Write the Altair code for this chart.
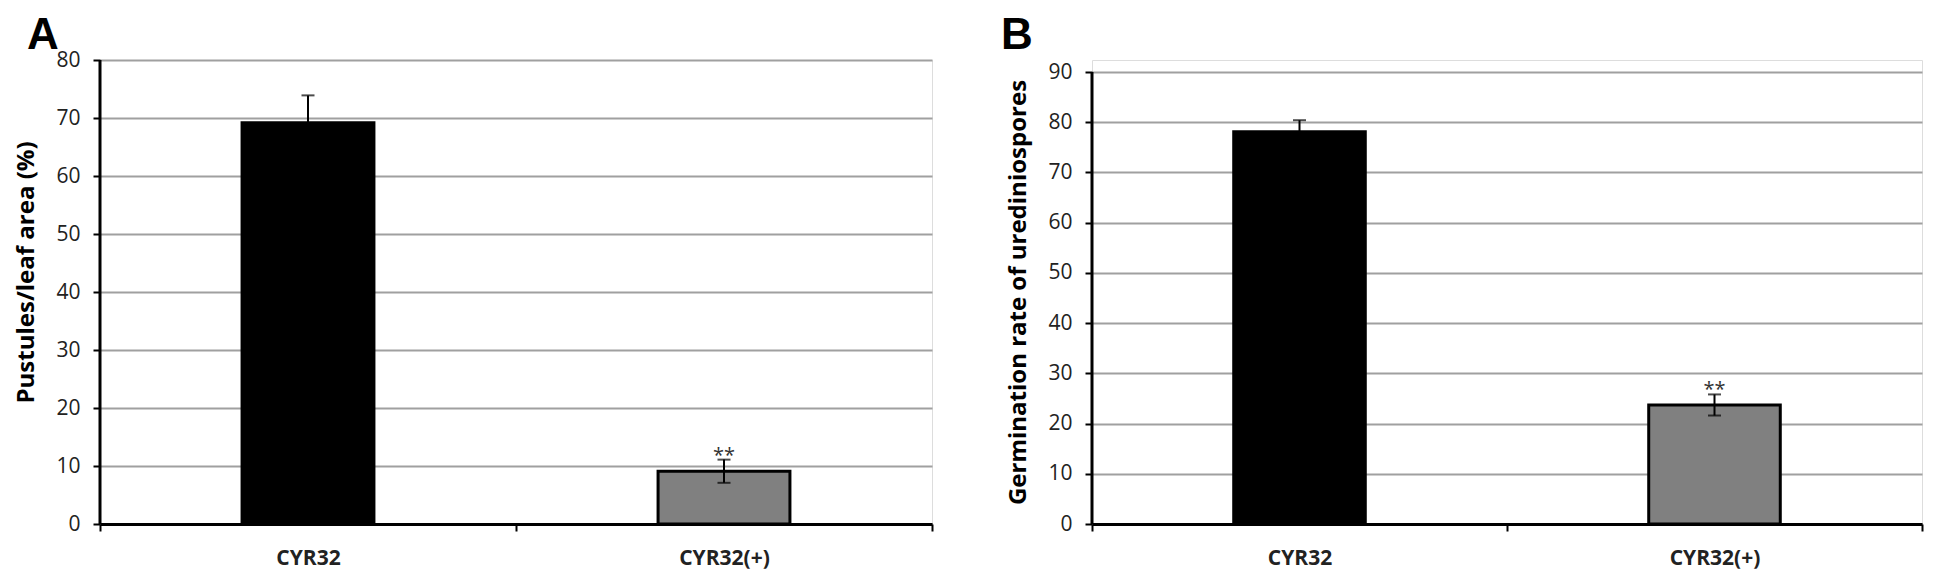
import altair as alt
import pandas as pd

groups = ["CYR32", "CYR32(+)"]
pustules = [69.2, 9.1]
pustules_err = [4.7, 2.0]
germination = [78.1, 23.7]
germination_err = [2.3, 2.1]
significance = ["", "**"]
bar_colors = ["#000000", "#808080"]


def panel(values, errs, ymax, scale_top, width, height, ytitle, letter,
          letter_x, title_y=None):
    df = pd.DataFrame({
        "group": groups,
        "value": values,
        "lo": [v - e for v, e in zip(values, errs)],
        "hi": [v + e for v, e in zip(values, errs)],
        "sig": significance,
        "color": bar_colors,
    })
    x = alt.X("group:N", sort=groups, title=None,
              scale=alt.Scale(paddingInner=0, paddingOuter=0),
              axis=alt.Axis(labelAngle=0, tickBand="extent", grid=False,
                            domainColor="black", domainWidth=3,
                            tickColor="black", tickWidth=2, tickSize=7,
                            labelFont="Open Sans", labelFontWeight="bold",
                            labelFontSize=21, labelColor="#222",
                            labelPadding=16))
    yscale = alt.Scale(domain=[0, scale_top], nice=False)
    axis_kw = dict(values=list(range(0, ymax + 1, 10)), grid=True,
                   gridColor="#a0a0a0", gridWidth=2,
                   domain=False,
                   tickColor="black", tickWidth=2, tickSize=7,
                   labelFont="Open Sans", labelFontSize=21,
                   labelColor="#222", labelPadding=13,
                   titleFont="Open Sans", titleFontWeight="bold",
                   titleFontSize=24, titleColor="black", titlePadding=17)
    if title_y is not None:
        axis_kw["titleY"] = title_y
    yaxis = alt.Axis(**axis_kw)
    base = alt.Chart(df)
    bars = base.mark_bar(width={"band": 0.317}, stroke="black",
                         strokeWidth=3).encode(
        x=x,
        y=alt.Y("value:Q", scale=yscale, axis=yaxis, title=ytitle),
        color=alt.Color("color:N", scale=None),
    )
    yline = alt.Chart(pd.DataFrame({"y0": [0], "y1": [ymax]})).mark_rule(
        color="black", strokeWidth=3).encode(
        x=alt.value(0), y="y0:Q", y2="y1:Q")
    err = base.mark_rule(color="black", strokeWidth=2).encode(
        x=alt.X("group:N", sort=groups), y="lo:Q", y2="hi:Q")
    cap_hi = base.mark_tick(color="black", thickness=2, size=13).encode(
        x=alt.X("group:N", sort=groups), y="hi:Q")
    cap_lo = base.mark_tick(color="black", thickness=2, size=13).encode(
        x=alt.X("group:N", sort=groups), y="lo:Q")
    stars = base.mark_text(font="Open Sans", fontSize=20, color="#333",
                           baseline="alphabetic", dy=2).encode(
        x=alt.X("group:N", sort=groups), y="hi:Q", text="sig:N")
    lab = alt.Chart(pd.DataFrame({"t": [letter]})).mark_text(
        font="Liberation Sans", fontWeight="bold", fontSize=44,
        align="left", baseline="top", color="black").encode(
        x=alt.value(letter_x), y=alt.value(-46), text="t:N")
    return alt.layer(bars, yline, err, cap_hi, cap_lo, stars, lab).properties(
        width=width, height=height)


a = panel(pustules, pustules_err, 80, 80, 832, 464,
          "Pustules/leaf area (%)", "A", -73, title_y=212)
b = panel(germination, germination_err, 90, 90 * 464 / 452, 830, 464,
          "Germination rate of urediniospores", "B", -91)

chart = alt.hconcat(a, b, spacing=66).properties(
    padding={"left": 6, "top": 5, "right": 0, "bottom": 0}
).configure_view(stroke=None).configure(background="white")

chart.save("out.html", embed_options={"renderer": "svg", "actions": False})
